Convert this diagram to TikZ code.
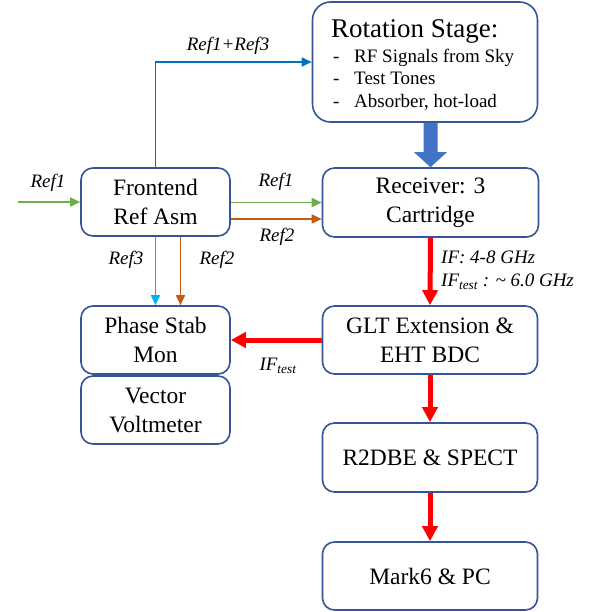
\documentclass[tikz,border=0pt]{standalone}
\usepackage{fontspec}
\setmainfont{LiberationSerif}[Extension=.ttf, UprightFont=*-Regular, ItalicFont=*-Italic, BoldFont=*-Bold, BoldItalicFont=*-BoldItalic]
\usetikzlibrary{arrows.meta,calc}
\definecolor{boxline}{RGB}{52,86,150}
\definecolor{refgreen}{RGB}{112,173,71}
\definecolor{reforange}{RGB}{197,90,17}
\definecolor{refblue}{RGB}{0,112,192}
\definecolor{refcyan}{RGB}{0,176,240}
\definecolor{bigblue}{RGB}{68,114,196}
\definecolor{ifred}{RGB}{255,0,0}
\tikzset{
  blk/.style={draw=boxline, line width=1.6pt, fill=white, rounded corners=12pt,
    align=center, inner sep=0pt, font=\fontsize{23.5}{29}\selectfont},
  thin/.style={line width=1.7pt, -{Triangle[length=10pt,width=9pt]}},
  fat/.style={draw=ifred, line width=5pt, -{Triangle[length=15pt,width=15pt]}},
  lbl/.style={font=\fontsize{19}{22}\selectfont\itshape, inner sep=0pt},
  item/.style={anchor=base west, inner sep=0pt, font=\fontsize{19}{22}\selectfont},
}
\begin{document}
\begin{tikzpicture}[x=1pt,y=-1pt]
\useasboundingbox (0,0) rectangle (594,612);

% blocks
\node[blk, rounded corners=18pt, minimum width=225pt, minimum height=120pt] (rot) at (425,62) {};
\node[blk, minimum width=149pt, minimum height=68pt] (fe) at (155.5,202) {Frontend\\Ref Asm};
\node[blk, minimum width=216pt, minimum height=69pt] (rec) at (430.5,202.5) {Receiver: 3\\Cartridge};
\node[blk, minimum width=149pt, minimum height=68pt] (ps) at (155.5,340) {Phase Stab\\Mon};
\node[blk, minimum width=149pt, minimum height=68pt] (vv) at (155.5,410) {Vector\\Voltmeter};
\node[blk, minimum width=215pt, minimum height=68pt] (glt) at (430,340) {GLT Extension \&\\EHT BDC};
\node[blk, minimum width=215pt, minimum height=69pt] (r2) at (430,457.5) {R2DBE \& SPECT};
\node[blk, minimum width=215pt, minimum height=68pt] (m6) at (430,576) {Mark6 \& PC};

% rotation stage contents
\node[anchor=base west, inner sep=0pt, font=\fontsize{27}{30}\selectfont] (rtitle) at (331,38) {Rotation Stage:};
\node[item] (d1) at (333,63) {-};
\node[item] (d2) at (333,85) {-};
\node[item] (d3) at (333,108) {-};
\node[item] (i1) at (354,63) {RF Signals from Sky};
\node[item] (i2) at (354,85) {Test Tones};
\node[item] (i3) at (354,108) {Absorber, hot-load};

% wide arrow from the rotation stage into the receiver
\coordinate (wa) at (rot.south -| rec.north);
\fill[bigblue] ($(wa)+(-7,0)$) -- ($(wa)+(7,0)$) -- ($(rec.north)+(7,-15)$)
  -- ($(rec.north)+(16.5,-15)$) -- (rec.north) -- ($(rec.north)+(-16.5,-15)$)
  -- ($(rec.north)+(-7,-15)$) -- cycle;

% reference distribution
\coordinate (refin) at (18,202);
\draw[thin, refgreen] (refin) -- (refin -| fe.west);
\draw[thin, refblue] (fe.north) |- (rot.west);
\draw[thin, refgreen] ($(fe.east)+(0,0.5)$) -- ($(rec.west)+(0,0)$);
\draw[thin, reforange] ($(fe.east)+(0,17)$) -- ($(rec.west)+(0,16.5)$);
\draw[thin, refcyan] (fe.south) -- (ps.north);
\draw[thin, reforange] ($(fe.south)+(25,0)$) -- ($(ps.north)+(25,0)$);

% IF chain
\draw[fat] (rec.south) -- (glt.north);
\draw[fat] (glt.west) -- (ps.east);
\draw[fat] (glt.south) -- (r2.north);
\draw[fat] (r2.south) -- (m6.north);

% labels
\node[lbl] (l13) at (228,46) {Ref1+Ref3};
\node[lbl] (lin) at (48,183) {Ref1};
\node[lbl] (l1) at (276,182) {Ref1};
\node[lbl] (l2) at (277,237) {Ref2};
\node[lbl] (l3) at (126,260) {Ref3};
\node[lbl] (l2b) at (217,260) {Ref2};
\node[lbl, anchor=west] (lif) at (441,257) {IF: 4-8 GHz};
\node[lbl, anchor=west] (lift) at (441,282) {IF\textsubscript{test} : \textasciitilde{} 6.0 GHz};
\node[lbl] (ltest) at (278,366) {IF\textsubscript{test}};
\end{tikzpicture}
\end{document}
